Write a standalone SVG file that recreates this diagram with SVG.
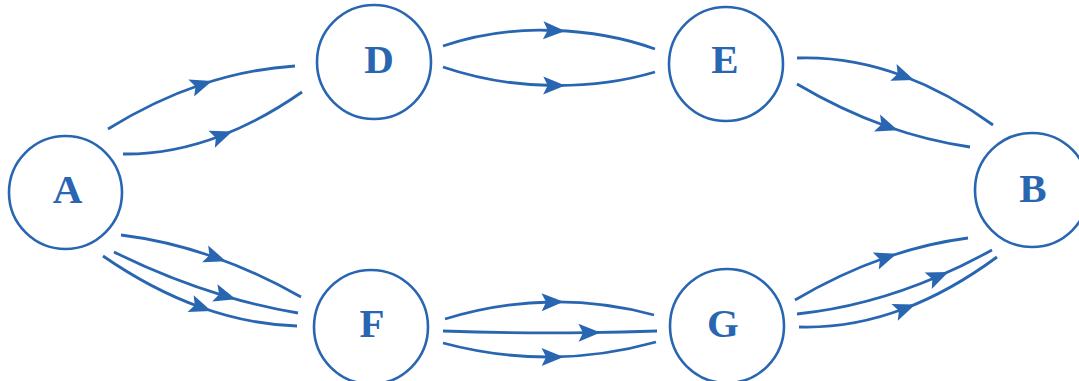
<svg xmlns="http://www.w3.org/2000/svg" width="1079" height="381" viewBox="0 0 1079 381">
  <style>
    .node circle { fill: #ffffff; stroke: #2966b1; stroke-width: 2.6; }
    .node text { font-family: "Liberation Serif", "Times New Roman", serif; font-weight: bold; font-size: 41px; fill: #2966b1; text-anchor: middle; }
    #edges path { fill: none; stroke: #2966b1; stroke-width: 2.8; marker-mid: url(#arrow); }
  </style>
  <defs>
    <!-- filled arrowhead, centred on the path vertex it is placed at -->
    <marker id="arrow" markerUnits="userSpaceOnUse" markerWidth="22" markerHeight="18" viewBox="0 0 22 18" refX="10" refY="9" orient="auto" overflow="visible">
      <path d="M0,0 L22,9 L0,18 L4.5,9 z" fill="#2966b1"/>
    </marker>
  </defs>
  <rect width="1079" height="381" fill="#ffffff"/>

  <g id="edges">
    <!-- A to D -->
    <path d="M108,129 Q154,100.5 200.75,84.75 Q247.5,69 295,66"/>
    <path d="M123,154 Q171.7,154.6 221,135.7 Q261.3,120.4 302,92"/>
    <!-- D to E -->
    <path d="M443,46 Q496,28 553.2,30.5 Q608,32 655,49"/>
    <path d="M443,67 Q496,85 553.2,85.5 Q608,86 655,72"/>
    <!-- E to B -->
    <path d="M797,58 Q849.9,56.1 902.8,75.8 Q947.9,92.6 993,125"/>
    <path d="M797,84 Q841.5,110.3 886.5,126.3 Q928,141 970,147"/>
    <!-- A to F -->
    <path d="M121,235 Q167.8,240.7 214.6,257.2 Q257.8,272.5 301,297"/>
    <path d="M114,252 Q169.2,279.3 224.4,295.8 Q261.2,306.8 298,313"/>
    <path d="M103,256 Q151.5,289.5 200,307 Q248.5,324.5 297,326"/>
    <!-- F to G -->
    <path d="M445,319 Q498.3,302.7 551.6,302 Q602.8,301.3 654,315"/>
    <path d="M443,331 Q515.8,333.7 588.5,332.7 Q622.8,332.3 657,331"/>
    <path d="M443,343 Q497.3,357.5 551.6,357 Q603.8,356.5 656,342"/>
    <!-- G to B -->
    <path d="M795,300 Q840.2,273.5 885.2,257.8 Q926.7,243.3 968,238"/>
    <path d="M797,314 Q867.2,306.8 937.4,276.8 Q964.7,265.1 992,250"/>
    <path d="M799,327 Q851.5,328.6 904,308.8 Q950.5,291.3 997,257"/>
  </g>

  <g id="node-A" class="node">
    <circle cx="65.5" cy="192.5" r="56.5"/>
    <text x="67.5" y="203">A</text>
  </g>
  <g id="node-D" class="node">
    <circle cx="374" cy="62" r="57"/>
    <text x="379" y="73">D</text>
  </g>
  <g id="node-E" class="node">
    <circle cx="726" cy="64" r="57"/>
    <text x="725" y="73">E</text>
  </g>
  <g id="node-B" class="node">
    <circle cx="1032" cy="190" r="57"/>
    <text x="1033" y="202">B</text>
  </g>
  <g id="node-F" class="node">
    <circle cx="371" cy="327" r="57"/>
    <text x="372" y="337">F</text>
  </g>
  <g id="node-G" class="node">
    <circle cx="727" cy="326" r="57"/>
    <text x="723" y="337">G</text>
  </g>
</svg>
